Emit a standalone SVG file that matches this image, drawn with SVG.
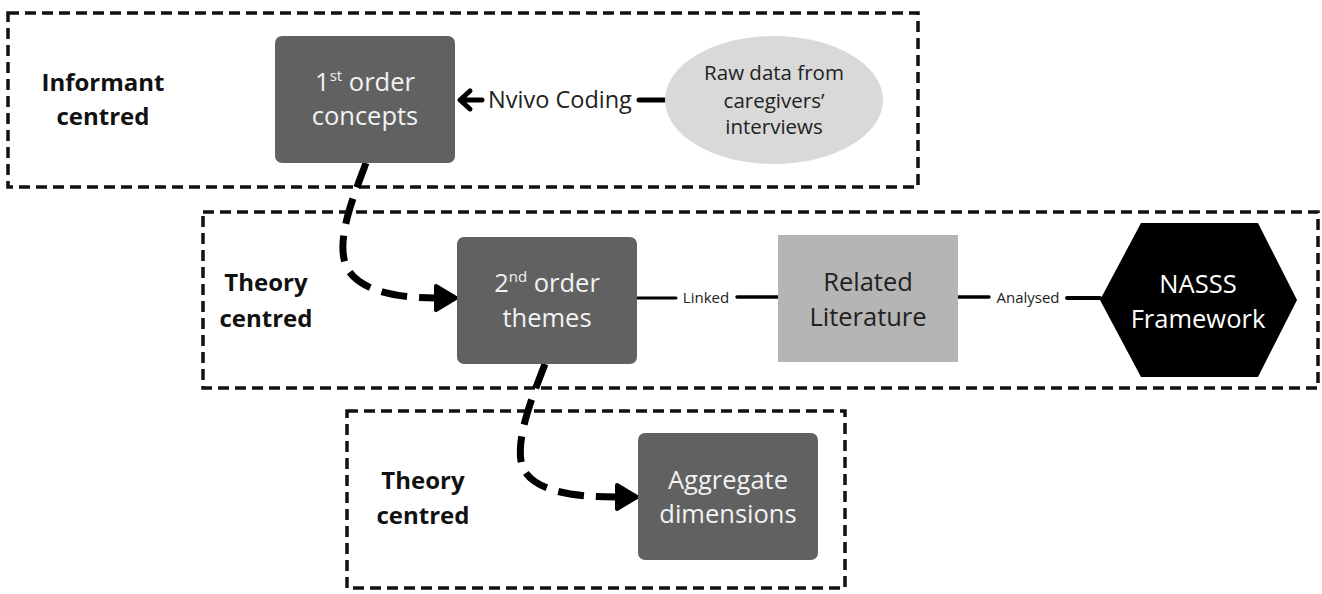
<svg xmlns="http://www.w3.org/2000/svg" width="1322" height="594" viewBox="0 0 1322 594">
<style>
.frame{fill:none;stroke:#111;stroke-width:3.5;stroke-dasharray:11 6}
.dark{fill:#616161}
.lbl{font-family:"Open Sans","Liberation Sans",sans-serif;font-weight:700;font-size:24px;fill:#111;text-anchor:middle}
.nt{font-family:"Open Sans","Liberation Sans",sans-serif;font-size:25.5px;fill:#f2f2f2;text-anchor:middle}
.dt{font-family:"Open Sans","Liberation Sans",sans-serif;font-size:25.5px;fill:#222;text-anchor:middle}
.et{font-family:"Open Sans","Liberation Sans",sans-serif;font-size:20.5px;fill:#222;text-anchor:middle}
.small{font-family:"Open Sans","Liberation Sans",sans-serif;font-size:15px;fill:#222;text-anchor:middle}
.sup{font-size:15px}
.curve{fill:none;stroke:#000;stroke-width:7;stroke-dasharray:26 12}
.solid{fill:none;stroke:#000;stroke-linecap:round;stroke-linejoin:round}
</style>
<defs>
<marker id="tri" markerUnits="userSpaceOnUse" markerWidth="28" markerHeight="32" viewBox="0 0 28 32" refX="2" refY="16" orient="auto">
<path d="M3,4 L23,16 L3,28 Z" fill="#000" stroke="#000" stroke-width="4" stroke-linejoin="round"/>
</marker>
</defs>
<rect width="1322" height="594" fill="#ffffff"/>

<g id="frames">
<rect id="frame-informant" class="frame" x="8" y="13" width="910" height="174"/>
<rect id="frame-theory1" class="frame" x="203" y="212" width="1115" height="176"/>
<rect id="frame-theory2" class="frame" x="347" y="411" width="498" height="177"/>
<text class="lbl" x="103" y="91">Informant</text>
<text class="lbl" x="103" y="125">centred</text>
<text class="lbl" x="266" y="291">Theory</text>
<text class="lbl" x="266" y="327">centred</text>
<text class="lbl" x="423" y="489">Theory</text>
<text class="lbl" x="423" y="524">centred</text>
</g>

<g id="connectors">
<path class="curve" d="M366 163 C352 200 336 240 346 266 C358 292 400 298 435 298" marker-end="url(#tri)"/>
<path class="curve" d="M545 364 C531 400 515 440 522 466 C532 492 575 497 616 497" marker-end="url(#tri)"/>
<path class="solid" stroke-width="5" d="M639 100 L664 100"/>
<path class="solid" stroke-width="5" d="M482 100 L461 100 M470 91 L460 100 L470 109"/>
<text class="et" x="560" y="108" style="font-size:23.5px">Nvivo Coding</text>
<path class="solid" stroke-width="3" d="M637 298 L676 298"/>
<path class="solid" stroke-width="3.5" d="M737 297 L778 297"/>
<text class="small" x="706" y="303">Linked</text>
<path class="solid" stroke-width="3.5" d="M958 297 L989 297"/>
<path class="solid" stroke-width="4" d="M1067 298 L1100 298"/>
<text class="small" x="1028" y="303">Analysed</text>
</g>

<g id="node-first-order">
<rect class="dark" x="275" y="36" width="180" height="127" rx="7"/>
<text class="nt" x="365" y="91">1<tspan class="sup" dy="-10">st</tspan><tspan dy="10"> order</tspan></text>
<text class="nt" x="365" y="125">concepts</text>
</g>

<g id="node-raw-data">
<ellipse cx="774" cy="100" rx="109" ry="64" fill="#d9d9d9"/>
<text class="et" x="774" y="80">Raw data from</text>
<text class="et" x="774" y="108">caregivers’</text>
<text class="et" x="774" y="134">interviews</text>
</g>

<g id="node-second-order">
<rect class="dark" x="457" y="237" width="180" height="127" rx="7"/>
<text class="nt" x="547" y="292">2<tspan class="sup" dy="-10">nd</tspan><tspan dy="10"> order</tspan></text>
<text class="nt" x="547" y="327">themes</text>
</g>

<g id="node-literature">
<rect x="778" y="235" width="180" height="127" fill="#b5b5b5"/>
<text class="dt" x="868" y="291">Related</text>
<text class="dt" x="868" y="326">Literature</text>
</g>

<g id="node-nasss">
<polygon points="1100,300 1141,223 1258,223 1297,300 1258,377 1141,377" fill="#000"/>
<text class="nt" x="1198" y="293" style="fill:#fff">NASSS</text>
<text class="nt" x="1198" y="328" style="fill:#fff">Framework</text>
</g>

<g id="node-aggregate">
<rect class="dark" x="638" y="433" width="180" height="127" rx="7"/>
<text class="nt" x="728" y="489">Aggregate</text>
<text class="nt" x="728" y="523">dimensions</text>
</g>
</svg>
